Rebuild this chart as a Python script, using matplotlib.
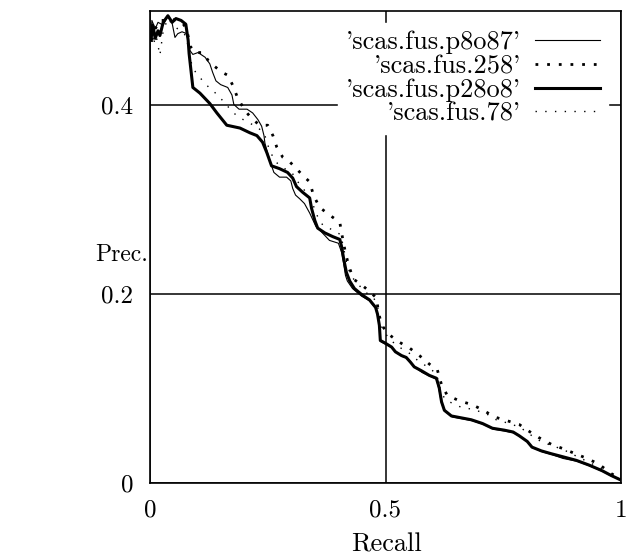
import matplotlib
matplotlib.use("Agg")
import matplotlib.pyplot as plt

# recall / precision curves
x_p8o87 = [0.002, 0.004, 0.011, 0.017, 0.028, 0.038, 0.047, 0.053, 0.059, 0.068, 0.078, 0.085,
           0.091, 0.102, 0.117, 0.127, 0.133, 0.140, 0.150, 0.165, 0.174, 0.178, 0.189, 0.206,
           0.218, 0.229, 0.237, 0.242, 0.244, 0.250, 0.256, 0.263, 0.275, 0.290, 0.299, 0.303,
           0.309, 0.318, 0.328, 0.339, 0.352, 0.364, 0.381, 0.400, 0.407, 0.411, 0.415, 0.419,
           0.430, 0.449, 0.466, 0.479, 0.483, 0.487, 0.489, 0.500, 0.515, 0.523, 0.536, 0.547,
           0.555, 0.564, 0.578, 0.595, 0.608, 0.614, 0.619, 0.627, 0.642, 0.663, 0.684, 0.708,
           0.729, 0.754, 0.773, 0.786, 0.803, 0.814, 0.833, 0.854, 0.877, 0.907, 0.934, 0.962,
           0.981, 0.998]
y_p8o87 = [0.474, 0.490, 0.481, 0.488, 0.485, 0.495, 0.487, 0.472, 0.476, 0.478, 0.476, 0.458,
           0.454, 0.456, 0.451, 0.444, 0.435, 0.426, 0.422, 0.419, 0.411, 0.401, 0.396, 0.396,
           0.392, 0.385, 0.378, 0.368, 0.360, 0.349, 0.339, 0.329, 0.324, 0.324, 0.320, 0.312,
           0.305, 0.301, 0.296, 0.286, 0.272, 0.266, 0.257, 0.254, 0.244, 0.233, 0.220, 0.214,
           0.206, 0.198, 0.193, 0.185, 0.178, 0.165, 0.150, 0.147, 0.143, 0.138, 0.134, 0.132,
           0.127, 0.122, 0.117, 0.113, 0.110, 0.098, 0.084, 0.076, 0.070, 0.068, 0.066, 0.062,
           0.057, 0.055, 0.053, 0.049, 0.043, 0.037, 0.033, 0.030, 0.026, 0.023, 0.018, 0.012,
           0.007, 0.004]

x_258 = [0.004, 0.011, 0.021, 0.032, 0.042, 0.055, 0.068, 0.078, 0.085, 0.095, 0.112, 0.123,
         0.138, 0.153, 0.165, 0.176, 0.186, 0.201, 0.216, 0.233, 0.250, 0.261, 0.269, 0.282,
         0.297, 0.309, 0.324, 0.339, 0.347, 0.360, 0.381, 0.403, 0.409, 0.415, 0.422, 0.432,
         0.449, 0.466, 0.481, 0.485, 0.492, 0.508, 0.530, 0.551, 0.572, 0.593, 0.610, 0.619,
         0.631, 0.657, 0.684, 0.708, 0.731, 0.758, 0.784, 0.801, 0.826, 0.852, 0.879, 0.903,
         0.928, 0.953, 0.979, 0.998]
y_258 = [0.469, 0.481, 0.490, 0.490, 0.492, 0.490, 0.488, 0.481, 0.463, 0.456, 0.456, 0.448,
         0.441, 0.435, 0.432, 0.421, 0.408, 0.395, 0.386, 0.379, 0.379, 0.368, 0.356, 0.345,
         0.340, 0.334, 0.326, 0.319, 0.305, 0.292, 0.284, 0.276, 0.259, 0.244, 0.230, 0.216,
         0.210, 0.203, 0.196, 0.181, 0.167, 0.157, 0.149, 0.143, 0.135, 0.126, 0.120, 0.104,
         0.093, 0.087, 0.083, 0.077, 0.070, 0.066, 0.062, 0.056, 0.048, 0.041, 0.036, 0.031,
         0.026, 0.020, 0.010, 0.005]

x_p28o8 = [0.002, 0.006, 0.011, 0.017, 0.021, 0.028, 0.038, 0.047, 0.055, 0.066, 0.076, 0.081,
           0.083, 0.087, 0.091, 0.106, 0.127, 0.142, 0.163, 0.191, 0.212, 0.227, 0.239, 0.248,
           0.258, 0.275, 0.292, 0.303, 0.311, 0.324, 0.339, 0.343, 0.350, 0.356, 0.371, 0.388,
           0.403, 0.407, 0.411, 0.417, 0.424, 0.434, 0.451, 0.466, 0.479, 0.483, 0.487, 0.489,
           0.500, 0.513, 0.521, 0.534, 0.544, 0.553, 0.561, 0.576, 0.593, 0.608, 0.614, 0.619,
           0.625, 0.640, 0.661, 0.682, 0.706, 0.727, 0.752, 0.771, 0.784, 0.801, 0.811, 0.831,
           0.852, 0.875, 0.905, 0.932, 0.960, 0.979, 0.996]
y_p28o8 = [0.469, 0.485, 0.471, 0.479, 0.474, 0.488, 0.495, 0.488, 0.492, 0.490, 0.486, 0.469,
           0.455, 0.437, 0.419, 0.413, 0.402, 0.392, 0.379, 0.376, 0.371, 0.368, 0.361, 0.350,
           0.336, 0.333, 0.329, 0.323, 0.314, 0.308, 0.302, 0.291, 0.278, 0.270, 0.265, 0.261,
           0.258, 0.250, 0.238, 0.223, 0.214, 0.206, 0.199, 0.194, 0.186, 0.179, 0.167, 0.151,
           0.148, 0.144, 0.139, 0.135, 0.133, 0.128, 0.123, 0.119, 0.114, 0.111, 0.101, 0.086,
           0.077, 0.071, 0.069, 0.067, 0.063, 0.058, 0.056, 0.054, 0.050, 0.044, 0.038, 0.034,
           0.031, 0.028, 0.024, 0.019, 0.013, 0.008, 0.004]

x_78 = [0.002, 0.006, 0.013, 0.021, 0.028, 0.038, 0.049, 0.064, 0.076, 0.083, 0.089, 0.097,
        0.112, 0.127, 0.144, 0.163, 0.184, 0.208, 0.229, 0.244, 0.254, 0.267, 0.286, 0.301,
        0.314, 0.328, 0.343, 0.354, 0.367, 0.388, 0.405, 0.411, 0.417, 0.426, 0.439, 0.458,
        0.475, 0.483, 0.487, 0.494, 0.508, 0.525, 0.547, 0.568, 0.589, 0.608, 0.617, 0.627,
        0.657, 0.684, 0.712, 0.735, 0.763, 0.786, 0.805, 0.833, 0.858, 0.883, 0.907, 0.932,
        0.960, 0.979, 0.998]
y_78 = [0.479, 0.463, 0.474, 0.453, 0.479, 0.492, 0.485, 0.479, 0.474, 0.458, 0.442, 0.435,
        0.426, 0.418, 0.411, 0.400, 0.389, 0.382, 0.377, 0.368, 0.352, 0.340, 0.333, 0.329,
        0.319, 0.310, 0.299, 0.284, 0.273, 0.268, 0.263, 0.249, 0.234, 0.220, 0.212, 0.202,
        0.196, 0.188, 0.175, 0.162, 0.153, 0.145, 0.139, 0.130, 0.123, 0.116, 0.098, 0.088,
        0.081, 0.078, 0.074, 0.067, 0.063, 0.059, 0.052, 0.043, 0.039, 0.034, 0.028, 0.022,
        0.015, 0.008, 0.004]

labels = ["'scas.fus.p8o87'", "'scas.fus.258'", "'scas.fus.p28o8'", "'scas.fus.78'"]

plt.rcParams['font.family'] = ['cmr10', 'DejaVu Serif']
plt.rcParams['axes.formatter.use_mathtext'] = True

fig = plt.figure(figsize=(6.3, 5.6), dpi=100)
ax = fig.add_axes([150 / 630, 1 - 483 / 560, 471 / 630, 472 / 560])

ax.plot(x_p8o87, y_p8o87, color='black', lw=0.8, label=labels[0])
ax.plot(x_258, y_258, color='black', lw=2.0, linestyle=(0, (1, 3.2)), label=labels[1])
ax.plot(x_p28o8, y_p28o8, color='black', lw=2.2, label=labels[2])
ax.plot(x_78, y_78, color='black', lw=1.0, linestyle=(0, (1, 6)), label=labels[3])

ax.set_xlim(0, 1)
ax.set_ylim(0, 0.5)
ax.set_xticks([0, 0.5, 1])
ax.set_xticklabels(['0', '0.5', '1'])
ax.set_yticks([0, 0.2, 0.4])
ax.set_yticklabels(['0', '0.2', '0.4'])
ax.tick_params(length=0, labelsize=18, pad=12)
ax.grid(True, color='black', lw=1.1)
for s in ax.spines.values():
    s.set_linewidth(1.2)

leg = ax.legend(loc='upper right', bbox_to_anchor=(0.972, 0.975), markerfirst=False,
                fontsize=19, frameon=True, fancybox=False, handlelength=2.45,
                handletextpad=0.55, labelspacing=0.0, borderpad=0.3, borderaxespad=0)
leg.get_frame().set_edgecolor('white')
leg.get_frame().set_facecolor('white')
leg.get_frame().set_alpha(1)

fig.text(122 / 630, 1 - 255 / 560, 'Prec.', fontsize=17, ha='center', va='center')
fig.text(386 / 630, 1 - 545 / 560, 'Recall', fontsize=19, ha='center', va='center')

fig.savefig('out.png', dpi=100)
